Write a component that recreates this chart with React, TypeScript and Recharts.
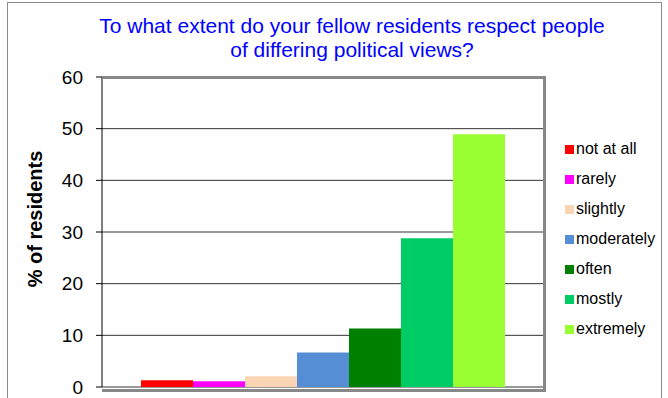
import React from "react";
import { BarChart, Bar, XAxis, YAxis, CartesianGrid, Legend } from "recharts";

const levels = ["not at all", "rarely", "slightly", "moderately", "often", "mostly", "extremely"];
const shares = [1.3, 1.1, 2.1, 6.7, 11.3, 28.8, 48.9];
const colors = ["#FF0000", "#FF00FF", "#FBD4B4", "#558ED5", "#008000", "#00CC66", "#99FF33"];
const yTicks = [0, 10, 20, 30, 40, 50, 60];

const row: Record<string, string | number> = { name: "all" };
levels.forEach((l, i) => {
  row[l] = shares[i];
});
const data = [row];

const font = "'Liberation Sans', Arial, sans-serif";
const frame = "#888888";

function LegendBox() {
  return (
    <div style={{ fontFamily: font, fontSize: 16, color: "#000" }}>
      {levels.map((l, i) => (
        <div key={l} style={{ height: 30, display: "flex", alignItems: "center" }}>
          <span style={{ width: 9, height: 9, background: colors[i], marginRight: 2, display: "inline-block" }} />
          <span>{l}</span>
        </div>
      ))}
    </div>
  );
}

export default function App() {
  return (
    <div
      style={{
        position: "absolute",
        left: 0,
        top: 0,
        width: 668,
        height: 398,
        overflow: "hidden",
        background: "#fff",
        fontFamily: font,
      }}
    >
      <BarChart
        width={668}
        height={398}
        data={data}
        margin={{ top: 77, right: 124, bottom: 11, left: 0 }}
        barCategoryGap={39}
        barGap={0}
      >
        <CartesianGrid vertical={false} stroke="#333" />
        <XAxis dataKey="name" height={0} tick={false} tickLine={false} axisLine={false} />
        <YAxis
          width={102}
          domain={[0, 60]}
          ticks={yTicks}
          interval={0}
          tickSize={6}
          tickMargin={13}
          axisLine={{ stroke: "#000" }}
          tickLine={{ stroke: "#000" }}
          tick={{ fontSize: 19, fill: "#000", fontFamily: font }}
        />
        {levels.map((l, i) => (
          <Bar key={l} dataKey={l} name={l} fill={colors[i]} isAnimationActive={false} />
        ))}
        <Legend
          layout="vertical"
          align="center"
          verticalAlign="middle"
          content={() => <LegendBox />}
          wrapperStyle={{ left: 565, top: 134, width: 100 }}
        />
      </BarChart>
      <div
        style={{
          position: "absolute",
          left: 102,
          top: 75.5,
          width: 441,
          height: 310,
          borderTop: `3px solid ${frame}`,
          borderRight: `3px solid ${frame}`,
          borderBottom: `3px solid ${frame}`,
        }}
      />
      <div
        style={{
          position: "absolute",
          left: 7,
          top: 2,
          width: 655,
          height: 430,
          border: "1px solid #8a8a8a",
          boxSizing: "border-box",
        }}
      />
      <div
        style={{
          position: "absolute",
          left: 352,
          top: 14,
          transform: "translateX(-50%)",
          textAlign: "center",
          whiteSpace: "nowrap",
          color: "#0000FF",
          fontSize: 21,
          lineHeight: "24px",
        }}
      >
        To what extent do your fellow residents respect people
        <br />
        of differing political views?
      </div>
      <div
        style={{
          position: "absolute",
          left: 35,
          top: 219,
          transform: "translate(-50%, -50%) rotate(-90deg)",
          whiteSpace: "nowrap",
          fontWeight: "bold",
          fontSize: 20,
          color: "#000",
        }}
      >
        % of residents
      </div>
    </div>
  );
}
